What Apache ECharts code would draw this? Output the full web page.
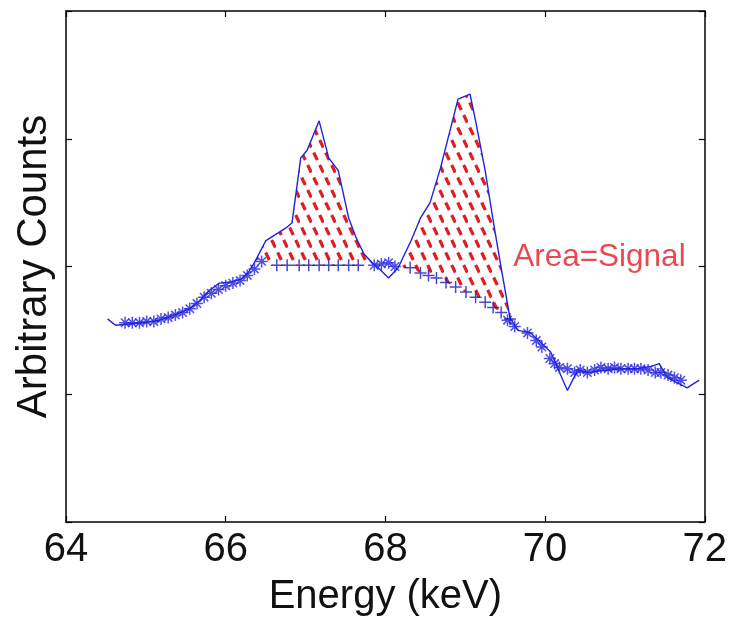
<!DOCTYPE html>
<html>
<head>
<meta charset="utf-8">
<script src="https://cdn.jsdelivr.net/npm/echarts@6/dist/echarts.min.js"></script>
<style>html,body{margin:0;padding:0;background:#fff}#c{width:730px;height:625px}</style>
</head>
<body>
<div id="c"></div>
<script>
// Measured spectrum (solid line)
const spectrum = [
  [64.52,1.59],[64.62,1.54],[64.80,1.55],[64.98,1.56],[65.17,1.58],[65.36,1.62],
  [65.55,1.67],[65.67,1.73],[65.79,1.81],[65.92,1.87],[66.07,1.88],[66.19,1.90],
  [66.28,1.95],[66.36,2.03],[66.50,2.20],[66.75,2.30],[66.83,2.34],[66.94,2.85],
  [67.02,2.91],[67.17,3.14],[67.29,2.85],[67.41,2.75],[67.54,2.38],[67.63,2.23],
  [67.73,2.10],[67.85,2.02],[67.91,1.99],[68.04,1.91],[68.16,1.99],[68.32,2.20],
  [68.44,2.38],[68.56,2.50],[68.69,2.77],[68.91,3.31],[69.06,3.35],[69.13,3.14],
  [69.25,2.75],[69.35,2.36],[69.45,1.99],[69.56,1.60],[69.66,1.50],[69.82,1.48],
  [70.07,1.33],[70.28,1.03],[70.41,1.19],[70.53,1.17],[70.78,1.19],[70.97,1.20],
  [71.15,1.20],[71.34,1.22],[71.43,1.24],[71.53,1.13],[71.78,1.05],[71.93,1.11]
];
// Background points outside the peaks (asterisks)
const bgStars = [
  [64.74,1.56],[64.83,1.56],[64.92,1.56],[65.01,1.57],[65.10,1.57],[65.19,1.59],
  [65.28,1.60],[65.37,1.62],[65.46,1.64],[65.55,1.67],[65.64,1.71],[65.73,1.76],
  [65.82,1.79],[65.91,1.82],[66.00,1.85],[66.09,1.87],[66.18,1.89],[66.27,1.93],
  [66.36,1.98],[66.45,2.04],
  [67.86,2.01],[67.95,2.02],[68.04,2.03],[68.12,2.00],
  [69.53,1.58],[69.62,1.53],[69.78,1.48],[69.89,1.42],[69.96,1.37],[70.06,1.28],
  [70.12,1.24],[70.18,1.21],[70.28,1.20],[70.37,1.17],[70.44,1.19],[70.53,1.17],
  [70.62,1.19],[70.70,1.21],[70.79,1.20],[70.87,1.21],[70.95,1.20],[71.04,1.20],
  [71.12,1.20],[71.20,1.20],[71.29,1.19],[71.38,1.17],[71.45,1.17],[71.54,1.15],
  [71.62,1.13],[71.70,1.11]
];
// Interpolated background under peak 1 and peak 2 (plus markers)
const bgPlus1 = [
  [66.64,2.01],[66.77,2.01],[66.92,2.01],[67.04,2.01],[67.17,2.01],
  [67.29,2.01],[67.41,2.01],[67.54,2.01],[67.66,2.01]
];
const bgPlus2 = [
  [68.31,1.99],[68.44,1.95],[68.54,1.93],[68.64,1.91],[68.76,1.875],[68.88,1.84],
  [69.01,1.80],[69.13,1.76],[69.25,1.72],[69.35,1.68],[69.45,1.64],[69.56,1.59]
];
const peakRanges = [[66.36,67.85],[68.16,69.56]];
const xTicks = [64,66,68,70,72];
const annotation = {x:69.6, y:2.07, text:'Area=Signal'};

const BLUE = '#2222dd';
const RED = '#e01c24';

// hatch pattern: dashed diagonal lines
const tile = document.createElement('canvas');
tile.width = 12; tile.height = 25;
const tc = tile.getContext('2d');
tc.strokeStyle = RED; tc.lineWidth = 3.2; tc.lineCap = 'butt';
function dash(cx, cy){
  const hx = 1.8, hy = 3.75;
  tc.beginPath(); tc.moveTo(cx-hx, cy-hy); tc.lineTo(cx+hx, cy+hy); tc.stroke();
}
dash(3.5, 6.25); dash(9.5, 18.75);

const polygons = [bgPlus1, bgPlus2].map((base, i) => {
  const [a,b] = peakRanges[i];
  const top = spectrum.filter(p => p[0] >= a && p[0] <= b);
  return top.concat(base.slice().reverse());
});

const chart = echarts.init(document.getElementById('c'), null, {renderer:'canvas'});
const FONT = 'Liberation Sans';
function axisCommon(){
  return {
    axisLine:{show:true, onZero:false, lineStyle:{color:'#000', width:1.5}},
    axisTick:{show:true, inside:true, length:6, lineStyle:{color:'#000', width:1.2}},
    splitLine:{show:false}
  };
}
chart.setOption({
  animation:false,
  grid:{left:66, right:22, top:11, bottom:103},
  xAxis:[
    Object.assign({type:'value', min:xTicks[0], max:xTicks[xTicks.length-1], interval:2, position:'bottom',
      name:'Energy (keV)', nameLocation:'middle', nameGap:55,
      nameTextStyle:{fontSize:40, color:'#111', fontFamily:FONT},
      axisLabel:{show:true, fontSize:40, color:'#111', fontFamily:FONT, margin:8}}, axisCommon()),
    Object.assign({type:'value', min:xTicks[0], max:xTicks[xTicks.length-1], interval:2, position:'top',
      axisLabel:{show:false}}, axisCommon())
  ],
  yAxis:[
    Object.assign({type:'value', min:0, max:4, interval:1, position:'left',
      name:'Arbitrary Counts', nameLocation:'middle', nameGap:11,
      nameTextStyle:{fontSize:42, color:'#111', fontFamily:FONT},
      axisLabel:{show:false}}, axisCommon()),
    Object.assign({type:'value', min:0, max:4, interval:1, position:'right',
      axisLabel:{show:false}}, axisCommon())
  ],
  series:[
    {
      type:'custom', coordinateSystem:'cartesian2d', z:1, silent:true,
      data: peakRanges.map((r,i) => [r[0], 2, i]),
      encode:{x:0, y:1},
      renderItem:function(params, api){
        const poly = polygons[api.value(2)];
        return {type:'polygon', shape:{points: poly.map(p => api.coord(p))},
          style:{fill:{image:tile, repeat:'repeat'}, stroke:null}};
      }
    },
    {
      type:'line', data:spectrum, symbol:'none', z:3, silent:true,
      lineStyle:{color:BLUE, width:1.4}
    },
    {
      type:'scatter', data:bgStars, z:4, silent:true, symbolSize:12,
      symbol:'path://M5 0L5 10M0 5L10 5M1.5 1.5L8.5 8.5M1.5 8.5L8.5 1.5',
      itemStyle:{color:'none', borderColor:BLUE, borderWidth:1.5}
    },
    {
      type:'scatter', data:bgPlus1.concat(bgPlus2), z:4, silent:true, symbolSize:12,
      symbol:'path://M5 0L5 10M0 5L10 5',
      itemStyle:{color:'none', borderColor:'#1a1ab8', borderWidth:1.5}
    },
    {
      type:'scatter', data:[[annotation.x, annotation.y]], symbolSize:0, z:5, silent:true,
      label:{show:true, position:'right', distance:0, formatter:annotation.text,
        fontSize:31.5, color:RED, fontFamily:FONT}
    }
  ]
});
</script>
</body>
</html>
